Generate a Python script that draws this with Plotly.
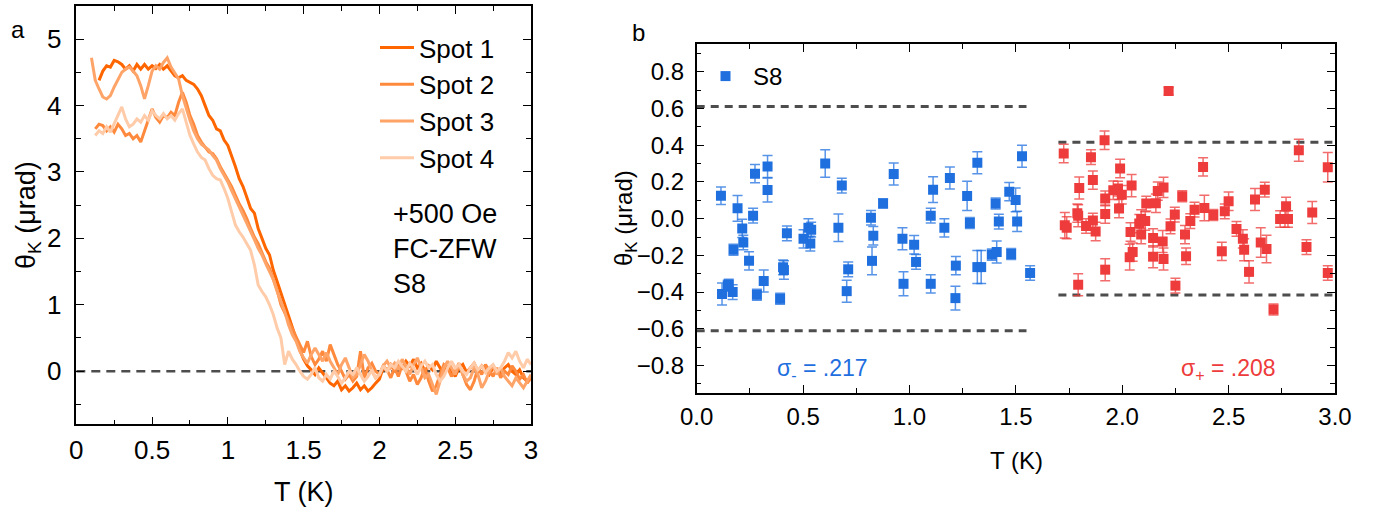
import plotly.graph_objects as go

FONT = "Liberation Sans, Arial, sans-serif"

# ---------------- Panel a data ----------------
T_A = [
    0.100, 0.125, 0.150, 0.175, 0.200, 0.225, 0.250, 0.275, 0.300, 0.325,
    0.350, 0.375, 0.400, 0.425, 0.450, 0.475, 0.500, 0.525, 0.550, 0.575,
    0.600, 0.625, 0.650, 0.675, 0.700, 0.725, 0.750, 0.775, 0.800, 0.825,
    0.850, 0.875, 0.900, 0.925, 0.950, 0.975, 1.000, 1.025, 1.050, 1.075,
    1.100, 1.125, 1.150, 1.175, 1.200, 1.225, 1.250, 1.275, 1.300, 1.325,
    1.350, 1.375, 1.400, 1.425, 1.450, 1.475, 1.500, 1.525, 1.550, 1.575,
    1.600, 1.625, 1.650, 1.675, 1.700, 1.725, 1.750, 1.775, 1.800, 1.825,
    1.850, 1.875, 1.900, 1.925, 1.950, 1.975, 2.000, 2.025, 2.050, 2.075,
    2.100, 2.125, 2.150, 2.175, 2.200, 2.225, 2.250, 2.275, 2.300, 2.325,
    2.350, 2.375, 2.400, 2.425, 2.450, 2.475, 2.500, 2.525, 2.550, 2.575,
    2.600, 2.625, 2.650, 2.675, 2.700, 2.725, 2.750, 2.775, 2.800, 2.825,
    2.850, 2.875, 2.900, 2.925, 2.950, 2.975, 3.000,
]

SPOT1 = [
    None, None, 4.38, 4.52, 4.60, 4.58, 4.68, 4.66, 4.62, 4.55,
    4.60, 4.52, 4.62, 4.55, 4.62, 4.55, 4.60, 4.56, 4.62, 4.55,
    4.60, 4.52, 4.45, 4.42, 4.45, 4.38, 4.35, 4.32, 4.25, 4.15,
    4.00, 3.85, 3.78, 3.65, 3.62, 3.48, 3.40, 3.25, 3.08, 2.90,
    2.78, 2.62, 2.45, 2.38, 2.15, 2.00, 1.85, 1.75, 1.52, 1.35,
    1.18, 1.00, 0.82, 0.65, 0.50, 0.32, 0.18, 0.08, 0.02, -0.05,
    0.05, -0.02, -0.10, -0.18, -0.22, -0.15, -0.28, -0.22, -0.30, -0.25,
    -0.18, -0.28, -0.22, -0.30, -0.25, -0.18, -0.12, 0.05, 0.00, 0.10,
    0.02, 0.12, 0.05, 0.15, 0.08, 0.18, 0.05, 0.12, 0.00, 0.08,
    0.02, 0.15, 0.05, -0.05, 0.08, 0.00, -0.08, 0.05, 0.10, -0.02,
    0.05, 0.12, 0.00, 0.08, 0.02, -0.05, 0.05, 0.00, -0.05, 0.05,
    0.10, 0.00, -0.05, 0.02, -0.10, -0.15, -0.08,
]

SPOT2 = [
    None, 3.65, 3.72, 3.70, 3.62, 3.68, 3.60, 3.72, 3.65, 3.55,
    3.58, 3.50, 3.55, 3.45, 3.62, 3.78, 3.95, 3.82, 3.75, 3.85,
    3.82, 3.90, 3.85, 4.05, 4.20, 4.05, 3.85, 3.72, 3.55, 3.45,
    3.38, 3.30, 3.28, 3.20, 3.08, 2.98, 2.88, 2.78, 2.65, 2.52,
    2.42, 2.30, 2.15, 2.02, 1.92, 1.78, 1.65, 1.55, 1.40, 1.22,
    1.00, 0.88, 0.75, 0.62, 0.50, 0.40, 0.28, 0.45, 0.22, 0.10,
    0.18, 0.30, 0.15, 0.40, 0.25, 0.10, 0.00, -0.12, -0.05, -0.15,
    -0.08, 0.30, -0.10, 0.05, 0.12, 0.00, -0.05, 0.08, 0.02, -0.10,
    0.05, -0.08, 0.10, 0.00, -0.15, -0.05, -0.20, -0.10, 0.05, -0.15,
    -0.30, -0.22, -0.05, 0.10, 0.05, -0.08, 0.00, 0.12, -0.05, -0.20,
    -0.28, -0.15, 0.05, -0.05, 0.10, 0.00, -0.08, 0.05, -0.10, 0.00,
    -0.05, 0.08, 0.00, -0.12, -0.05, -0.18, -0.10,
]

SPOT3 = [
    4.72, 4.38, 4.25, 4.13, 4.10, 4.15, 4.28, 4.40, 4.50, 4.55,
    4.58, 4.52, 4.45, 4.30, 4.10, 4.30, 4.52, 4.60, 4.55, 4.65,
    4.72, 4.58, 4.48, 4.40, 4.15, 3.95, 3.78, 3.62, 3.50, 3.42,
    3.38, 3.33, 3.25, 3.18, 3.05, 2.95, 2.85, 2.72, 2.60, 2.48,
    2.35, 2.22, 2.10, 1.98, 1.85, 1.75, 1.62, 1.50, 1.38, 1.20,
    1.05, 0.90, 0.70, 0.55, 0.45, 0.30, 0.20, 0.12, 0.25, 0.35,
    0.25, 0.15, 0.28, 0.15, 0.05, -0.05, 0.10, 0.20, 0.05, -0.10,
    -0.05, 0.10, 0.25, 0.15, 0.00, -0.10, -0.05, 0.08, 0.15, 0.05,
    0.12, 0.02, 0.18, 0.08, -0.05, 0.10, 0.20, 0.05, -0.10, -0.05,
    -0.20, -0.35, -0.15, 0.05, 0.15, 0.05, -0.05, 0.10, -0.05, -0.15,
    -0.10, 0.05, -0.05, -0.25, -0.15, 0.00, 0.08, -0.05, 0.05, -0.08,
    -0.15, -0.22, -0.10, -0.18, -0.25, -0.15, -0.05,
]

SPOT4 = [
    None, 3.55, 3.62, 3.58, 3.68, 3.60, 3.72, 3.85, 3.98, 3.80,
    3.68, 3.72, 3.80, 3.75, 3.85, 3.78, 3.92, 3.85, 3.80, 3.88,
    3.80, 3.85, 3.78, 3.88, 3.95, 3.75, 3.55, 3.42, 3.30, 3.22,
    3.18, 3.05, 2.95, 2.90, 2.88, 2.75, 2.60, 2.40, 2.20, 2.10,
    2.02, 1.92, 1.82, 1.60, 1.30, 1.20, 1.12, 1.00, 0.85, 0.65,
    0.50, 0.10, 0.30, 0.18, 0.10, 0.00, -0.08, -0.12, -0.05, 0.05,
    -0.10, -0.15, -0.05, -0.12, 0.00, -0.08, -0.18, -0.10, 0.00, -0.05,
    0.05, -0.05, -0.15, -0.08, 0.02, -0.10, -0.05, 0.08, 0.00, 0.10,
    0.05, 0.15, 0.08, 0.00, 0.12, 0.05, -0.05, 0.08, 0.15, 0.05,
    0.10, -0.05, -0.15, -0.08, 0.05, 0.15, 0.05, 0.10, 0.00, -0.05,
    0.05, 0.12, 0.02, 0.08, -0.02, 0.05, 0.10, 0.00, 0.05, 0.15,
    0.28, 0.20, 0.30, 0.15, 0.05, 0.18, 0.10,
]

SPOT_NAMES = ["Spot 1", "Spot 2", "Spot 3", "Spot 4"]
SPOT_COLORS = ["#FF6600", "#FF8A3D", "#FFA468", "#FFCBA8"]
ZERO_LINE_T = [0.0, 3.0]
ZERO_LINE_V = [0.0, 0.0]

# ---------------- Panel b data ----------------
T_BLUE = [0.114, 0.119, 0.146, 0.151, 0.169, 0.173, 0.192, 0.214, 0.219, 0.246,
          0.274, 0.265, 0.283, 0.315, 0.333, 0.333, 0.392, 0.406, 0.410, 0.424,
          0.502, 0.525, 0.538, 0.534, 0.604, 0.666, 0.682, 0.705, 0.712, 0.819,
          0.824, 0.830, 0.876, 0.926, 0.967, 0.972, 1.022, 1.031, 1.100, 1.111,
          1.100, 1.164, 1.190, 1.216, 1.218, 1.271, 1.284, 1.319, 1.319, 1.337,
          1.387, 1.410, 1.405, 1.420, 1.469, 1.478, 1.499, 1.506, 1.529, 1.567]
THETA_BLUE = [0.125, -0.410, -0.365, -0.360, -0.400, -0.170, 0.056, -0.053, -0.130, -0.230,
              0.245, 0.016, -0.415, -0.340, 0.284, 0.156, -0.437, -0.265, -0.280, -0.080,
              -0.110, -0.050, -0.060, -0.136, 0.300, -0.050, 0.180, -0.395, -0.276, 0.005,
              -0.230, -0.093, 0.083, 0.243, -0.110, -0.355, -0.142, -0.236, 0.016, 0.158,
              -0.355, -0.050, 0.222, -0.433, -0.256, 0.124, -0.024, 0.304, -0.264, -0.264,
              -0.196, -0.182, 0.082, -0.016, 0.147, -0.193, 0.102, -0.015, 0.340, -0.296]
ERR_BLUE = [0.048, 0.060, 0.030, 0.030, 0.040, 0.030, 0.070, 0.050, 0.040, 0.050,
            0.050, 0.040, 0.030, 0.060, 0.060, 0.065, 0.030, 0.040, 0.050, 0.040,
            0.050, 0.050, 0.040, 0.040, 0.075, 0.075, 0.040, 0.060, 0.040, 0.040,
            0.075, 0.050, 0.025, 0.060, 0.060, 0.065, 0.050, 0.040, 0.040, 0.070,
            0.050, 0.050, 0.060, 0.065, 0.050, 0.080, 0.030, 0.060, 0.090, 0.090,
            0.030, 0.060, 0.030, 0.040, 0.050, 0.030, 0.065, 0.055, 0.060, 0.040]

T_RED = [1.725, 1.730, 1.739, 1.789, 1.793, 1.793, 1.798, 1.830, 1.853, 1.862,
         1.862, 1.875, 1.917, 1.920, 1.920, 1.920, 1.958, 1.980, 1.985, 1.990,
         1.998, 2.039, 2.035, 2.044, 2.049, 2.080, 2.089, 2.089, 2.108, 2.113,
         2.145, 2.145, 2.158, 2.167, 2.194, 2.190, 2.194, 2.218, 2.227, 2.247,
         2.250, 2.282, 2.295, 2.300, 2.320, 2.340, 2.380, 2.386, 2.428, 2.468,
         2.482, 2.500, 2.537, 2.567, 2.573, 2.596, 2.624, 2.651, 2.670, 2.678,
         2.711, 2.742, 2.765, 2.779, 2.770, 2.830, 2.866, 2.893, 2.966, 2.966]
THETA_RED = [0.355, -0.036, -0.050, 0.030, 0.016, -0.360, 0.167, -0.040, 0.335, 0.210,
             -0.010, -0.070, 0.427, 0.025, 0.110, -0.278, 0.155, 0.164, 0.055, 0.273,
             0.130, -0.073, -0.210, 0.180, -0.182, -0.027, -0.002, -0.087, -0.013, 0.082,
             -0.105, -0.207, 0.084, 0.150, 0.170, -0.124, -0.220, 0.695, -0.042, 0.022,
             -0.365, 0.122, -0.087, -0.205, -0.013, 0.049, 0.282, 0.058, 0.020, -0.178,
             0.040, 0.095, -0.056, -0.110, -0.170, -0.290, 0.104, -0.130, 0.158, -0.165,
             -0.495, -0.002, -0.002, -0.002, 0.067, 0.373, -0.155, 0.033, 0.280, -0.296]
ERR_RED = [0.050, 0.070, 0.060, 0.050, 0.060, 0.060, 0.060, 0.040, 0.040, 0.050,
           0.040, 0.050, 0.050, 0.050, 0.040, 0.060, 0.050, 0.040, 0.050, 0.050,
           0.050, 0.050, 0.070, 0.060, 0.050, 0.050, 0.050, 0.050, 0.050, 0.040,
           0.050, 0.060, 0.050, 0.050, 0.055, 0.060, 0.060, 0.020, 0.040, 0.040,
           0.040, 0.030, 0.050, 0.045, 0.040, 0.040, 0.050, 0.070, 0.030, 0.050,
           0.040, 0.050, 0.040, 0.050, 0.060, 0.060, 0.060, 0.080, 0.040, 0.075,
           0.030, 0.045, 0.045, 0.045, 0.050, 0.060, 0.040, 0.060, 0.080, 0.040]

BLUE_BAND_T = [0.0, 1.55]
BLUE_BAND = 0.611
RED_BAND_T = [1.70, 3.0]
RED_BAND = 0.416
SIGMA_MINUS = ".217"
SIGMA_PLUS = ".208"

BLUE = "#1F6FDF"
RED = "#EE3B3B"
DASH_COLOR = "#4D4D4D"

W, H = 1377, 519

fig = go.Figure()

# Panel a traces
fig.add_trace(go.Scatter(x=ZERO_LINE_T, y=ZERO_LINE_V, mode="lines",
                         line=dict(color=DASH_COLOR, width=2.5, dash="9px,6px"),
                         showlegend=False, xaxis="x", yaxis="y", hoverinfo="skip"))
for name, vals, col in zip(SPOT_NAMES, [SPOT1, SPOT2, SPOT3, SPOT4], SPOT_COLORS):
    fig.add_trace(go.Scatter(x=T_A, y=vals, mode="lines", name=name,
                             line=dict(color=col, width=3),
                             xaxis="x", yaxis="y", legend="legend"))

# Panel b dashed bands
for sgn in (1, -1):
    fig.add_trace(go.Scatter(x=BLUE_BAND_T, y=[sgn * BLUE_BAND] * 2, mode="lines",
                             line=dict(color=DASH_COLOR, width=3, dash="8px,6px"),
                             showlegend=False, xaxis="x2", yaxis="y2", hoverinfo="skip"))
    fig.add_trace(go.Scatter(x=RED_BAND_T, y=[sgn * RED_BAND] * 2, mode="lines",
                             line=dict(color=DASH_COLOR, width=3, dash="8px,6px"),
                             showlegend=False, xaxis="x2", yaxis="y2", hoverinfo="skip"))

fig.add_trace(go.Scatter(x=T_BLUE, y=THETA_BLUE, mode="markers", name="S8",
                         marker=dict(symbol="square", size=10, color=BLUE),
                         error_y=dict(type="data", array=ERR_BLUE, color="rgba(31,111,223,0.75)",
                                      thickness=1.5, width=5),
                         xaxis="x2", yaxis="y2", legend="legend2"))
fig.add_trace(go.Scatter(x=T_RED, y=THETA_RED, mode="markers", name="S8 (+)",
                         marker=dict(symbol="square", size=10, color=RED),
                         error_y=dict(type="data", array=ERR_RED, color="rgba(238,59,59,0.75)",
                                      thickness=1.5, width=5),
                         showlegend=False, xaxis="x2", yaxis="y2"))

axis_common = dict(showline=True, linecolor="black", linewidth=1.5, mirror="ticks",
                   ticks="inside", tickcolor="black", showgrid=False, zeroline=False,
                   tickwidth=1.3, automargin=False)

fig.update_layout(
    width=W, height=H,
    margin=dict(l=0, r=0, t=0, b=0, autoexpand=False),
    paper_bgcolor="white", plot_bgcolor="white",
    font=dict(family=FONT, color="black"),
    xaxis=dict(domain=[76.3 / W, 531 / W], range=[0, 3], dtick=0.5, ticklen=8,
               tickfont=dict(size=26), ticklabelstandoff=2,
               minor=dict(dtick=0.25, ticklen=5, ticks="inside", tickcolor="black"),
               anchor="y", **axis_common),
    yaxis=dict(domain=[1 - 424.3 / H, 1 - 6 / H], range=[-0.8, 5.5], dtick=1, ticklen=8,
               tickfont=dict(size=26), ticklabelstandoff=8,
               minor=dict(dtick=0.5, ticklen=5, ticks="inside", tickcolor="black"),
               anchor="x", **axis_common),
    xaxis2=dict(domain=[696.7 / W, 1335 / W], range=[0, 3], dtick=0.5, ticklen=8,
                tickformat=".1f", tickfont=dict(size=24), ticklabelstandoff=1,
                minor=dict(dtick=0.25, ticklen=5, ticks="inside", tickcolor="black"),
                anchor="y2", **axis_common),
    yaxis2=dict(domain=[1 - 393 / H, 1 - 44.3 / H], range=[-0.95, 0.95], dtick=0.2, ticklen=8,
                tickformat=".1f", tickfont=dict(size=24), ticklabelstandoff=6,
                minor=dict(dtick=0.1, ticklen=5, ticks="inside", tickcolor="black"),
                anchor="x2", **axis_common),
    legend=dict(x=375 / W, y=1 - 24 / H, xanchor="left", yanchor="top",
                font=dict(size=26, family=FONT), bgcolor="rgba(0,0,0,0)",
                tracegroupgap=0, itemwidth=34),
    legend2=dict(x=698 / W, y=1 - 54 / H, xanchor="left", yanchor="top",
                 font=dict(size=24, family=FONT), bgcolor="rgba(0,0,0,0)",
                 itemwidth=45),
    showlegend=True,
)

annotations = [
    dict(text="a", x=18 / W, y=1 - 30 / H, xref="paper", yref="paper",
         showarrow=False, font=dict(size=24), xanchor="center", yanchor="middle"),
    dict(text="b", x=638 / W, y=1 - 32 / H, xref="paper", yref="paper",
         showarrow=False, font=dict(size=24), xanchor="center", yanchor="middle"),
    dict(text="θ<sub>K</sub> (μrad)", x=28 / W, y=1 - 215 / H, xref="paper", yref="paper",
         showarrow=False, textangle=-90, font=dict(size=27), xanchor="center", yanchor="middle"),
    dict(text="T (K)", x=303.6 / W, y=1 - 492 / H, xref="paper", yref="paper",
         showarrow=False, font=dict(size=27), xanchor="center", yanchor="middle"),
    dict(text="θ<sub>K</sub> (μrad)", x=625 / W, y=1 - 218 / H, xref="paper", yref="paper",
         showarrow=False, textangle=-90, font=dict(size=24), xanchor="center", yanchor="middle"),
    dict(text="T (K)", x=1016 / W, y=1 - 460 / H, xref="paper", yref="paper",
         showarrow=False, font=dict(size=24), xanchor="center", yanchor="middle"),
    dict(text="+500 Oe<br>FC-ZFW<br>S8", x=391 / W, y=1 - 197 / H, xref="paper", yref="paper",
         showarrow=False, align="left", font=dict(size=27), xanchor="left", yanchor="top"),
    dict(text="σ<sub>-</sub> = " + SIGMA_MINUS, x=822 / W, y=1 - 369 / H, xref="paper", yref="paper",
         showarrow=False, font=dict(size=23, color=BLUE), xanchor="center", yanchor="middle"),
    dict(text="σ<sub>+</sub> = " + SIGMA_PLUS, x=1228 / W, y=1 - 369 / H, xref="paper", yref="paper",
         showarrow=False, font=dict(size=23, color=RED), xanchor="center", yanchor="middle"),
]
fig.update_layout(annotations=annotations)

fig.write_html(
    "out.html",
    config={"displayModeBar": False},
    post_script="document.body.style.margin='0px';document.body.style.overflow='hidden';",
)
